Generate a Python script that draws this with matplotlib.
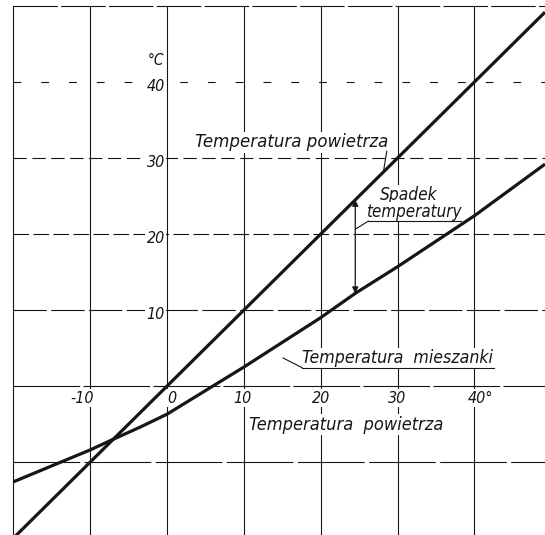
import numpy as np
import matplotlib
matplotlib.use("Agg")
import matplotlib.pyplot as plt

# Air temperature (°C) vs. temperature of the fuel-air mixture (°C)
air_x = [-20, 49.2]
air_y = [-20, 49.2]

mix_x = [-20, -10, -7, -3.5, 0, 5, 10, 20, 24.5, 30, 40, 49.2]
mix_y = [-12.6, -8.4, -7.0, -5.4, -3.7, -0.6, 2.5, 9.0, 12.2, 15.7, 22.4, 29.2]

x_ticks = [-10, 0, 10, 20, 30, 40]
x_tick_labels = ["-10", "0", "10", "20", "30", "40°"]
y_ticks = [10, 20, 30, 40]
y_tick_labels = ["10", "20", "30", "40"]

FONT = ["DejaVu Sans"]
INK = "#161616"

fig = plt.figure(figsize=(5.45, 5.35), dpi=100)
ax = fig.add_axes([0, 0, 1, 1])
ax.set_xlim(-21.75, 49.2)
ax.set_ylim(-19.6, 50.8)
ax.axis("off")

grid_kw = dict(color=INK, lw=0.8, zorder=1)

# frame: left border and top edge
ax.plot([-20, -20], [-19.6, 50], **grid_kw)
ax.plot([-20, 49.2], [50, 50], dashes=(40, 3), **grid_kw)

# vertical grid
for xv in x_ticks:
    ax.plot([xv, xv], [-19.6, 50], **grid_kw)

# horizontal grid, drawn in broken strokes like a drafted sheet
h_dashes = {40: (7, 18), 30: (12, 5), 20: (14, 4), 10: (30, 4), 0: (60, 3), -10: (60, 4)}
for yv, d in h_dashes.items():
    ax.plot([-20, 49.2], [yv, yv], dashes=d, **grid_kw)

# curves
ax.plot(air_x, air_y, color=INK, lw=2.3, zorder=3, solid_capstyle="butt")
ax.plot(mix_x, mix_y, color=INK, lw=2.3, zorder=3, solid_capstyle="butt")

txt_kw = dict(family=FONT, style="italic", stretch="condensed", color=INK, zorder=2,
              bbox=dict(facecolor="white", edgecolor="none", pad=1.0))

# axis numbers
for yv, lab in zip(y_ticks, y_tick_labels):
    ax.text(-0.3, yv - 0.6, lab, ha="right", va="center", fontsize=11.5, **txt_kw)
ax.text(-0.4, 42.9, "°C", ha="right", va="center", fontsize=11, **txt_kw)

x_offsets = {-10: -1.0, 0: 0.6, 10: -0.2, 20: 0.1, 30: 0.0, 40: 0.8}
for xv, lab in zip(x_ticks, x_tick_labels):
    ax.text(xv + x_offsets[xv], -1.6, lab, ha="center", va="center", fontsize=11.5, **txt_kw)

ax.text(23.3, -5.1, "Temperatura  powietrza", ha="center", va="center",
        fontsize=13.1, **txt_kw)

# curve labels
ax.text(16.2, 32.1, "Temperatura powietrza", ha="center", va="center",
        fontsize=13.3, **txt_kw)
ax.plot([28.6, 28.2], [30.9, 28.4], color=INK, lw=0.8, zorder=2)

ax.text(30.0, 3.7, "Temperatura  mieszanki", ha="center", va="center",
        fontsize=12.7, **txt_kw)
ax.plot([17.6, 42.5], [2.4, 2.4], color=INK, lw=0.8, zorder=2)
ax.plot([15.1, 17.6], [3.7, 2.4], color=INK, lw=0.8, zorder=2)

ax.text(31.4, 25.1, "Spadek", ha="center", va="center", fontsize=12.4, **txt_kw)
ax.text(32.1, 22.9, "temperatury", ha="center", va="center", fontsize=12.2, **txt_kw)
ax.plot([26.2, 38.2], [21.7, 21.7], color=INK, lw=0.8, zorder=2)
ax.plot([24.6, 26.2], [20.7, 21.7], color=INK, lw=0.8, zorder=2)

# temperature-drop arrow between the two curves
x_arrow = 24.5
y_top = float(np.interp(x_arrow, air_x, air_y))
y_bot = float(np.interp(x_arrow, mix_x, mix_y))
ax.annotate("", xy=(x_arrow, y_top), xytext=(x_arrow, y_bot),
            arrowprops=dict(arrowstyle="<|-|>", color=INK, lw=0.9,
                            mutation_scale=9, shrinkA=0, shrinkB=0), zorder=4)

fig.savefig("out.png", dpi=100, facecolor="white")
